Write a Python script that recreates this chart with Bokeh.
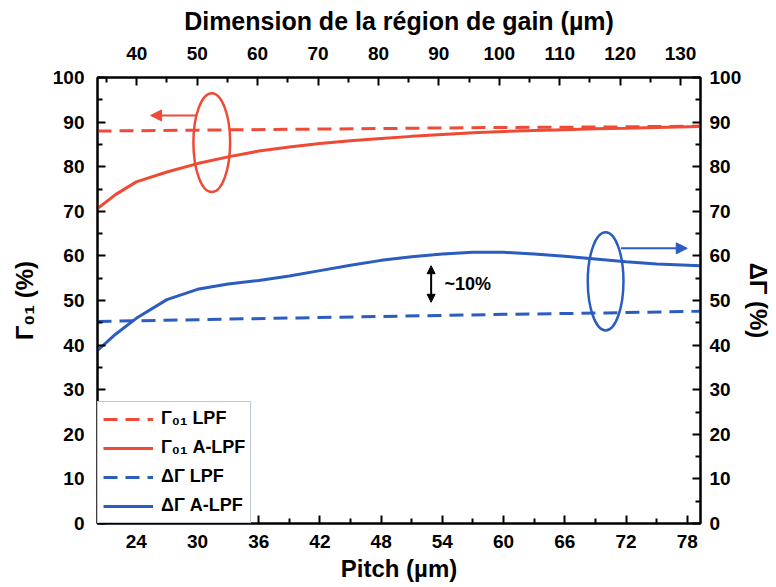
from bokeh.plotting import figure
from bokeh.models import (LinearAxis, Range1d, FixedTicker, Legend, LegendItem,
                          Arrow, NormalHead, Label)
from bokeh.embed import file_html
from bokeh.resources import INLINE

# ---------------- data ----------------
pitch = [20.2, 22, 24, 27, 30, 33, 36, 39, 42, 45, 48, 51, 54, 57, 60, 63, 66, 69, 72, 75, 79.3]
gamma01_alpf = [70.6, 73.8, 76.6, 78.8, 80.7, 82.2, 83.5, 84.4, 85.2, 85.8, 86.3, 86.8, 87.2,
                87.6, 87.9, 88.1, 88.3, 88.5, 88.6, 88.8, 89.0]
dgamma_alpf = [38.8, 42.5, 46.0, 50.2, 52.5, 53.7, 54.5, 55.5, 56.7, 57.9, 59.0, 59.8, 60.4,
               60.8, 60.8, 60.4, 59.9, 59.3, 58.7, 58.2, 57.8]
pitch_lpf = [20.2, 30, 40, 50, 60, 70, 79.3]
gamma01_lpf = [88.0, 88.2, 88.4, 88.6, 88.8, 88.9, 89.1]
dgamma_lpf = [45.3, 45.7, 46.1, 46.5, 46.9, 47.2, 47.6]

x_ticks = [24, 30, 36, 42, 48, 54, 60, 66, 72, 78]
x_minor = [21, 27, 33, 39, 45, 51, 57, 63, 69, 75]
top_ticks = [40, 50, 60, 70, 80, 90, 100, 110, 120, 130]
top_minor = [35, 45, 55, 65, 75, 85, 95, 105, 115, 125]
y_ticks = [0, 10, 20, 30, 40, 50, 60, 70, 80, 90, 100]
y_minor = [5, 15, 25, 35, 45, 55, 65, 75, 85, 95]

labels = ["Γ₀₁ LPF", "Γ₀₁ A-LPF", "ΔΓ LPF", "ΔΓ A-LPF"]

# annotation positions (data units)
red_ellipse = dict(x=31.4, y=85.4, w=3.6, h=22.2)
blue_ellipse = dict(x=70.0, y=54.3, w=3.5, h=22.0)
red_arrow = dict(x0=29.9, x1=25.4, y=91.5)
blue_arrow = dict(x0=71.5, x1=78.0, y=61.7)
diff_arrow = dict(x=52.9, y0=49.6, y1=57.8)
diff_text = dict(x=54.2, y=53.6, text="~10%")

RED = "#ef4a35"
BLUE = "#2b5cc0"
FONT = "Liberation Sans"

p = figure(frame_width=603, frame_height=446,
           x_range=Range1d(20.2, 79.3), y_range=Range1d(0, 100),
           output_backend="svg", toolbar_location=None,
           min_border_left=97, min_border_right=74, min_border_top=77, min_border_bottom=64)
p.extra_x_ranges = {"top": Range1d(33.5, 133.3)}
p.extra_y_ranges = {"right": Range1d(0, 100)}
p.xgrid.grid_line_color = None
p.ygrid.grid_line_color = None
p.outline_line_color = "black"
p.outline_line_width = 2
p.background_fill_color = "white"

bottom_axis = p.below[0]
left_axis = p.left[0]
top_axis = LinearAxis(x_range_name="top")
right_axis = LinearAxis(y_range_name="right")
p.add_layout(top_axis, "above")
p.add_layout(right_axis, "right")

bottom_axis.ticker = FixedTicker(ticks=x_ticks, minor_ticks=x_minor)
top_axis.ticker = FixedTicker(ticks=top_ticks, minor_ticks=top_minor)
left_axis.ticker = FixedTicker(ticks=y_ticks, minor_ticks=y_minor)
right_axis.ticker = FixedTicker(ticks=y_ticks, minor_ticks=y_minor)

bottom_axis.axis_label = "Pitch (µm)"
top_axis.axis_label = "Dimension de la région de gain (µm)"
left_axis.axis_label = "Γ₀₁ (%)"
right_axis.axis_label = "ΔΓ (%)"

for ax in [bottom_axis, top_axis, left_axis, right_axis]:
    ax.axis_line_width = 2
    ax.major_tick_line_width = 2
    ax.minor_tick_line_width = 2
    ax.major_tick_in = 8
    ax.major_tick_out = 0
    ax.minor_tick_in = 5
    ax.minor_tick_out = 0
    ax.major_label_text_font = FONT
    ax.major_label_text_font_style = "bold"
    ax.major_label_text_font_size = "19px"
    ax.major_label_text_color = "black"
    ax.axis_label_text_font = FONT
    ax.axis_label_text_font_style = "bold"
    ax.axis_label_text_color = "black"

bottom_axis.major_label_standoff = 11
bottom_axis.axis_label_standoff = 4
bottom_axis.axis_label_text_font_size = "24px"
top_axis.major_label_standoff = 18
top_axis.axis_label_standoff = 9
top_axis.axis_label_text_font_size = "25px"
left_axis.major_label_standoff = 13
left_axis.axis_label_standoff = 12
left_axis.axis_label_text_font_size = "24px"
right_axis.major_label_standoff = 9
right_axis.axis_label_standoff = 1
right_axis.axis_label_text_font_size = "24px"

r1 = p.line(pitch_lpf, gamma01_lpf, line_color=RED, line_width=3, line_dash="14 8")
r2 = p.line(pitch, gamma01_alpf, line_color=RED, line_width=3)
r3 = p.line(pitch_lpf, dgamma_lpf, line_color=BLUE, line_width=3, line_dash="14 8")
r4 = p.line(pitch, dgamma_alpf, line_color=BLUE, line_width=3)

p.ellipse(x=[red_ellipse["x"]], y=[red_ellipse["y"]], width=red_ellipse["w"],
          height=red_ellipse["h"], fill_color=None, line_color=RED, line_width=2.5)
p.ellipse(x=[blue_ellipse["x"]], y=[blue_ellipse["y"]], width=blue_ellipse["w"],
          height=blue_ellipse["h"], fill_color=None, line_color=BLUE, line_width=2.5)

p.add_layout(Arrow(end=NormalHead(size=11, fill_color=RED, line_color=RED),
                   x_start=red_arrow["x0"], x_end=red_arrow["x1"],
                   y_start=red_arrow["y"], y_end=red_arrow["y"],
                   line_color=RED, line_width=2))
p.add_layout(Arrow(end=NormalHead(size=11, fill_color=BLUE, line_color=BLUE),
                   x_start=blue_arrow["x0"], x_end=blue_arrow["x1"],
                   y_start=blue_arrow["y"], y_end=blue_arrow["y"],
                   line_color=BLUE, line_width=2))
p.add_layout(Arrow(start=NormalHead(size=8, fill_color="black", line_color="black"),
                   end=NormalHead(size=8, fill_color="black", line_color="black"),
                   x_start=diff_arrow["x"], x_end=diff_arrow["x"],
                   y_start=diff_arrow["y0"], y_end=diff_arrow["y1"],
                   line_color="black", line_width=2))
p.add_layout(Label(x=diff_text["x"], y=diff_text["y"], text=diff_text["text"],
                   text_font=FONT, text_font_style="bold", text_font_size="18px",
                   text_baseline="middle", text_align="left", text_color="black"))

legend = Legend(items=[LegendItem(label=labels[0], renderers=[r1]),
                       LegendItem(label=labels[1], renderers=[r2]),
                       LegendItem(label=labels[2], renderers=[r3]),
                       LegendItem(label=labels[3], renderers=[r4])],
                location="bottom_left", margin=0, padding=5, spacing=6,
                glyph_width=50, label_height=23, label_standoff=8,
                label_text_font=FONT, label_text_font_style="bold",
                label_text_font_size="18px", label_text_color="black",
                border_line_color="#7896a6",
                border_line_width=1, background_fill_alpha=1)
p.add_layout(legend)

open("out.html", "w").write(file_html(p, INLINE))
